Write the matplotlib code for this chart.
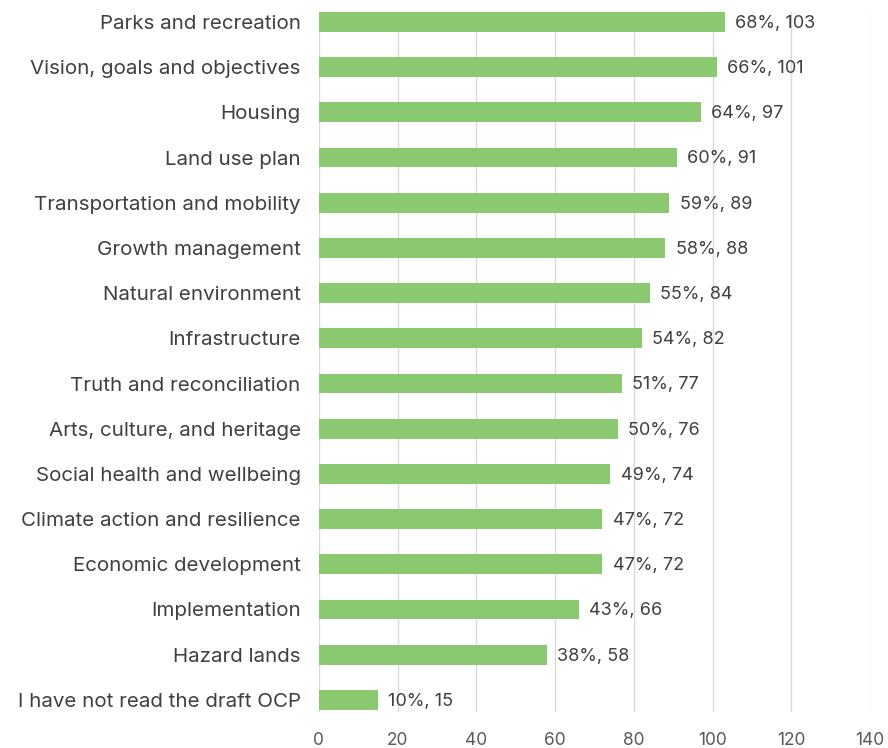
import matplotlib.pyplot as plt

categories = ["Parks and recreation", "Vision, goals and objectives", "Housing",
              "Land use plan", "Transportation and mobility", "Growth management",
              "Natural environment", "Infrastructure", "Truth and reconciliation",
              "Arts, culture, and heritage", "Social health and wellbeing",
              "Climate action and resilience", "Economic development",
              "Implementation", "Hazard lands", "I have not read the draft OCP"]
counts = [103, 101, 97, 91, 89, 88, 84, 82, 77, 76, 74, 72, 72, 66, 58, 15]
percents = [68, 66, 64, 60, 59, 58, 55, 54, 51, 50, 49, 47, 47, 43, 38, 10]

plt.rcParams['font.family'] = ['Inter', 'DejaVu Sans']

fig = plt.figure(figsize=(8.88, 7.48), dpi=100)
ax = fig.add_axes([0.359, 0.048, 0.621, 0.936])

ypos = list(range(len(categories)))
ax.barh(ypos, counts, height=0.44, color='#8AC970', zorder=3)
for y, c, p in zip(ypos, counts, percents):
    ax.text(c + 2.6, y + 0.03, f"{p}%, {c}", va='center', ha='left',
            fontsize=13, color='#404040')

ax.set_yticks(ypos)
ax.set_yticklabels(categories, fontsize=14.8, color='#404040')
ax.set_ylim(15.27, -0.22)
ax.set_xlim(0, 140)
ax.set_xticks(range(0, 141, 20))
ax.tick_params(axis='x', labelsize=12.5, colors='#595959', length=0, pad=14)
ax.tick_params(axis='y', length=0, pad=13)
ax.grid(axis='x', color='#D9D9D9', linewidth=1, zorder=0)
for s in ax.spines.values():
    s.set_visible(False)

fig.savefig('out.png', dpi=100)
